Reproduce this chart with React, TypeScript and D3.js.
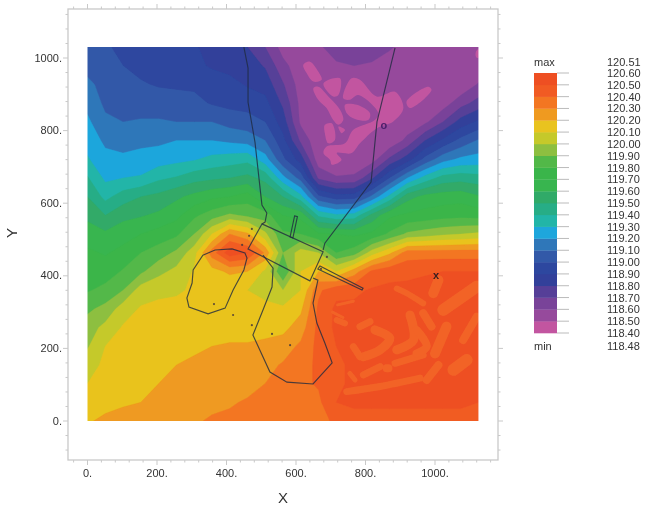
import React from "react";
import * as d3 from "d3";

// Surface values, rows from the top edge (Y=1030) to the bottom edge (Y=0)
const surfaceRows: number[][] = [
  [119.05,119.02,118.96,118.95,118.94,118.93,118.91,118.87,118.84,118.80,118.70,118.56,118.56,118.59,118.63,118.65,118.64,118.61,118.57,118.55,118.55,118.55,118.54],
  [119.07,119.04,119.00,118.97,118.95,118.94,118.92,118.89,118.87,118.85,118.79,118.63,118.54,118.56,118.59,118.60,118.59,118.56,118.53,118.52,118.52,118.52,118.52],
  [119.12,119.07,119.03,119.01,118.99,118.98,118.98,118.95,118.93,118.89,118.86,118.71,118.55,118.52,118.52,118.51,118.51,118.51,118.51,118.51,118.52,118.52,118.61],
  [119.17,119.08,119.07,119.05,119.05,119.05,119.03,118.99,118.97,118.96,118.93,118.78,118.57,118.52,118.52,118.51,118.51,118.51,118.51,118.52,118.55,118.66,118.74],
  [119.22,119.12,119.10,119.11,119.11,119.10,119.10,119.10,119.06,119.04,119.00,118.85,118.58,118.52,118.52,118.51,118.51,118.51,118.53,118.58,118.70,118.84,118.92],
  [119.26,119.18,119.16,119.17,119.18,119.20,119.20,119.20,119.18,119.16,119.10,118.93,118.68,118.52,118.52,118.51,118.51,118.52,118.63,118.80,118.92,119.03,119.11],
  [119.31,119.23,119.22,119.24,119.25,119.27,119.29,119.33,119.35,119.37,119.24,119.02,118.85,118.54,118.52,118.52,118.55,118.72,118.85,119.03,119.16,119.22,119.24],
  [119.41,119.28,119.30,119.31,119.38,119.41,119.46,119.48,119.50,119.53,119.47,119.23,119.06,118.68,118.61,118.62,118.78,119.00,119.20,119.34,119.44,119.46,119.44],
  [119.50,119.37,119.45,119.50,119.53,119.58,119.63,119.68,119.70,119.75,119.60,119.50,119.33,119.02,118.94,118.95,119.12,119.33,119.56,119.63,119.65,119.66,119.61],
  [119.58,119.50,119.57,119.59,119.62,119.67,119.78,119.85,119.92,119.88,119.85,119.70,119.67,119.38,119.32,119.34,119.53,119.68,119.72,119.74,119.76,119.77,119.76],
  [119.64,119.62,119.66,119.70,119.74,119.78,119.90,120.10,120.30,120.22,120.02,119.82,119.80,119.72,119.70,119.68,119.72,119.82,119.92,119.95,119.98,120.00,120.02],
  [119.72,119.69,119.73,119.80,119.85,119.92,120.06,120.35,120.56,120.50,120.28,119.90,120.05,120.00,119.80,119.85,120.05,120.18,120.35,120.35,120.35,120.35,120.35],
  [119.76,119.75,119.81,119.88,119.97,120.03,120.11,120.16,120.22,120.20,120.08,119.80,120.10,120.20,120.10,120.25,120.42,120.47,120.47,120.49,120.50,120.50,120.50],
  [119.79,119.83,119.90,120.05,120.08,120.09,120.11,120.10,120.11,120.10,120.05,120.00,120.10,120.38,120.47,120.48,120.51,120.52,120.53,120.53,120.53,120.53,120.52],
  [119.88,119.93,120.05,120.11,120.12,120.12,120.13,120.14,120.13,120.13,120.14,120.12,120.18,120.42,120.52,120.52,120.54,120.54,120.54,120.54,120.54,120.54,120.53],
  [119.95,120.03,120.11,120.12,120.13,120.14,120.15,120.17,120.16,120.16,120.17,120.17,120.25,120.43,120.52,120.53,120.54,120.54,120.54,120.54,120.54,120.54,120.53],
  [119.99,120.10,120.12,120.13,120.14,120.16,120.18,120.20,120.21,120.21,120.22,120.25,120.32,120.43,120.50,120.53,120.54,120.54,120.54,120.54,120.54,120.54,120.54],
  [120.06,120.12,120.14,120.15,120.16,120.20,120.22,120.23,120.24,120.24,120.27,120.31,120.36,120.42,120.47,120.53,120.54,120.54,120.54,120.54,120.54,120.54,120.54],
  [120.10,120.14,120.16,120.17,120.20,120.23,120.25,120.26,120.27,120.27,120.30,120.33,120.38,120.41,120.47,120.53,120.54,120.54,120.54,120.54,120.54,120.54,120.52],
  [120.14,120.17,120.19,120.20,120.23,120.25,120.27,120.28,120.29,120.31,120.32,120.34,120.37,120.38,120.50,120.52,120.52,120.52,120.52,120.52,120.52,120.52,120.50],
  [120.19,120.22,120.23,120.23,120.25,120.27,120.29,120.31,120.32,120.33,120.33,120.35,120.34,120.33,120.44,120.46,120.46,120.46,120.46,120.46,120.46,120.46,120.46],
];
const surfaceX0 = 0, surfaceX1 = 1125, surfaceY0 = 1030, surfaceY1 = 0;

// Band lower bounds (bottom of legend first) and their colours
const bandFloors = [118.4,118.5,118.6,118.7,118.8,118.9,119.0,119.1,119.2,119.3,119.4,119.5,119.6,119.7,119.8,119.9,120.0,120.1,120.2,120.3,120.4,120.5];
const bandColors = ["#c255a0","#964a9c","#794399","#563f98","#32409a","#2d479f","#3259a8","#2f77b9","#1ea6dc","#22b5a8","#27ad86","#30aa68","#38b54f","#3ab54a","#52b848","#8dbf40","#c5c92a","#e9c31f","#ef9a20","#f37622","#f15b23","#ee4f22"];
const streakColor = "#f26328";
const legendLabels = ["120.60","120.50","120.40","120.30","120.20","120.10","120.00","119.90","119.80","119.70","119.60","119.50","119.40","119.30","119.20","119.10","119.00","118.90","118.80","118.70","118.60","118.50","118.40"];
const maxLabel = "120.51", minLabel = "118.48";

const xMajor = [0,200,400,600,800,1000];
const yMajor = [0,200,400,600,800,1000];
const xMinor = [-40,40,80,120,160,240,280,320,360,440,480,520,560,640,680,720,760,840,880,920,960,1040,1080,1120,1160];
const yMinor = [-80,-40,40,80,120,160,240,280,320,360,440,480,520,560,640,680,720,760,840,880,920,960,1040,1080,1120];

type P = [number, number];
const leftChannel: P[] = [[450,1030],[462,972],[462,878],[482,768],[502,595],[516,573],[511,548],[502,543]];
const rightChannel: P[] = [[678,471],[683,490],[816,658],[833,824],[885,1028]];
const basin: P[] = [[502,543],[678,466],[640,386],[462,474]];
const upperJetty: P[] = [[596,565],[604,563],[591,504],[583,507]];
const lowerJetty: P[] = [[669,427],[793,366],[790,361],[663,419]];
const loopA: P[] = [[367,471],[416,474],[453,463],[459,449],[450,416],[419,361],[396,311],[347,295],[292,314],[286,339],[301,380],[304,416],[332,457]];
const loopB: P[] = [[505,457],[534,421],[531,369],[505,306],[476,237],[525,135],[574,107],[649,102],[704,160],[683,215],[660,270],[649,325],[663,388],[649,394]];
const dots: P[] = [[473,529],[465,510],[445,485],[689,452],[672,419],[364,322],[419,292],[473,264],[531,240],[583,209]];
const circleMark: P = [853,815];
const crossMark: P = [1003,402];

const lowPatches: P[][] = [
  [[621,981],[640,990],[664,963],[674,940],[650,935],[631,958]],
  [[679,930],[727,944],[722,898],[707,894]],
  [[650,917],[664,921],[698,889],[727,857],[736,829],[722,816],[707,829],[688,862],[664,885]],
  [[683,816],[703,820],[712,774],[693,765],[683,793]],
  [[722,811],[741,802],[731,793]],
  [[760,944],[784,940],[832,894],[885,907],[909,862],[880,825],[832,806],[784,765],[760,738],[717,738],[731,719],[703,706],[698,719],[679,738],[688,756],[741,765],[765,802],[827,829],[837,848],[779,898],[755,885],[736,889]],
  [[741,871],[775,871],[813,848],[808,829],[770,832],[746,848]],
  [[918,880],[981,921],[990,912],[928,862]],
  [[1118,1018],[1125,1025],[1125,1000],[1118,1003]],
];
const highStreaks: P[][] = [
  [[746,81],[842,95],[957,118]],[[794,127],[842,150]],[[976,113],[1010,154]],[[1053,141],[1091,168]],
  [[885,159],[966,182]],[[1000,186],[1033,260]],[[928,292],[938,223],[890,196]],[[966,297],[990,260]],
  [[947,251],[976,205],[947,186]],[[1081,223],[1120,287]],[[1024,306],[1120,370]],[[995,352],[1010,388]],
  [[827,251],[870,228],[842,196],[794,177]],[[784,260],[813,274]],[[717,278],[741,269]],[[765,205],[784,177]],
  [[861,145],[866,145]],[[755,131],[770,113]],[[890,365],[918,352],[966,324]],[[720,320],[765,330]],[[705,300],[735,285]],
];
const streakWidths = [7,7,8,12,7,10,9,8,8,8,12,10,9,7,6,7,8,5,6,3,3];

const W = 645, H = 506;
const FONT = "'Liberation Sans', Arial, sans-serif";
const x = d3.scaleLinear().domain([0, 1000]).range([87.5, 435]);
const y = d3.scaleLinear().domain([0, 1000]).range([421, 58]);
const frame = { l: 68, r: 498, t: 9, b: 460 };

export default function App() {
  const ny = surfaceRows.length, nx = surfaceRows[0].length;
  const flat = surfaceRows.flat();
  const contourGen = d3.contours().size([nx, ny]).thresholds(bandFloors);
  const contours = contourGen(flat);
  const gx = d3.scaleLinear().domain([0, nx - 1]).range([surfaceX0, surfaceX1]);
  const gy = d3.scaleLinear().domain([0, ny - 1]).range([surfaceY0, surfaceY1]);
  const path = d3.geoPath(d3.geoTransform({
    point(px: number, py: number) {
      (this as any).stream.point(x(gx(px - 0.5)), y(gy(py - 0.5)));
    },
  }));
  const lineGen = d3.line<P>().x((d) => x(d[0])).y((d) => y(d[1]));
  const blob = d3.line<P>().x((d) => x(d[0])).y((d) => y(d[1])).curve(d3.curveCatmullRomClosed.alpha(0.5));
  const sausage = d3.line<P>().x((d) => x(d[0])).y((d) => y(d[1])).curve(d3.curveCatmullRom.alpha(0.5));

  const legendTop = 73, legendBottom = 333;
  const legendY = d3.scaleLinear().domain([0, legendLabels.length - 1]).range([legendTop, legendBottom]);
  const mapL = x(0), mapR = x(1125), mapT = y(1030), mapB = y(0);
  const lineColor = "#1f2a40";
  const frameColor = "#c9c9c9";

  return (
    <svg width={W} height={H} viewBox={`0 0 ${W} ${H}`}
      style={{ position: "absolute", left: 0, top: 0, background: "#fff", filter: "blur(0.4px)" }}
      fontFamily={FONT}>
      <defs>
        <clipPath id="mapClip"><rect x={mapL} y={mapT} width={mapR - mapL} height={mapB - mapT} /></clipPath>
        <filter id="soft" x="-2%" y="-2%" width="104%" height="104%"><feGaussianBlur stdDeviation={0.7} /></filter>
      </defs>
      {/* frame and ticks */}
      <rect x={frame.l} y={frame.t} width={frame.r - frame.l} height={frame.b - frame.t} fill="#fff" stroke={frameColor} strokeWidth={1.3} />
      <g stroke={frameColor} strokeWidth={1}>
        {xMinor.map((v) => <g key={v}><line x1={x(v)} x2={x(v)} y1={frame.t} y2={frame.t - 2.5} /><line x1={x(v)} x2={x(v)} y1={frame.b} y2={frame.b + 2.5} /></g>)}
        {xMajor.map((v) => <g key={v}><line x1={x(v)} x2={x(v)} y1={frame.t} y2={frame.t - 5} /><line x1={x(v)} x2={x(v)} y1={frame.b} y2={frame.b + 5} /></g>)}
        {yMinor.map((v) => <g key={v}><line y1={y(v)} y2={y(v)} x1={frame.l} x2={frame.l - 2.5} /><line y1={y(v)} y2={y(v)} x1={frame.r} x2={frame.r + 2.5} /></g>)}
        {yMajor.map((v) => <g key={v}><line y1={y(v)} y2={y(v)} x1={frame.l} x2={frame.l - 5} /><line y1={y(v)} y2={y(v)} x1={frame.r} x2={frame.r + 5} /></g>)}
      </g>
      <g fontSize={11} fill="#333">
        {xMajor.map((v) => <text key={v} x={x(v)} y={477} textAnchor="middle">{v}.</text>)}
        {yMajor.map((v) => <text key={v} x={62} y={y(v) + 3.5} textAnchor="end">{v}.</text>)}
      </g>
      <text x={283} y={503} fontSize={15} fill="#333" textAnchor="middle">X</text>
      <text transform="translate(17,233) rotate(-90)" fontSize={15} fill="#333" textAnchor="middle">Y</text>

      {/* filled map */}
      <g clipPath="url(#mapClip)">
        <g filter="url(#soft)">
          {contours.map((c: any, i: number) => <path key={i} d={path(c) || ""} fill={bandColors[i]} stroke={bandColors[i]} strokeWidth={0.3} />)}
          {lowPatches.map((p, i) => <path key={i} d={blob(p) || ""} fill={bandColors[0]} />)}
          {highStreaks.map((p, i) => <path key={i} d={sausage(p) || ""} fill="none" stroke={streakColor} strokeWidth={streakWidths[i]} strokeLinecap="round" strokeLinejoin="round" />)}
        </g>
      </g>

      {/* overlay lines */}
      <g fill="none" stroke={lineColor} strokeOpacity={0.8} strokeWidth={1.15}>
        <path d={lineGen(leftChannel) || ""} />
        <path d={lineGen(rightChannel) || ""} />
        <path d={(lineGen(basin) || "") + "Z"} />
        <path d={(lineGen(upperJetty) || "") + "Z"} />
        <path d={(lineGen(lowerJetty) || "") + "Z"} />
        <path d={(lineGen(loopA) || "") + "Z"} />
        <path d={lineGen(loopB) || ""} />
      </g>
      <g fill="#4a3a3a" opacity={0.85}>
        {dots.map((d, i) => <circle key={i} cx={x(d[0])} cy={y(d[1])} r={1.1} />)}
      </g>
      <text x={x(circleMark[0])} y={y(circleMark[1]) + 3.5} fontSize={11} fontWeight={700} fill="#4a1f6a" textAnchor="middle">o</text>
      <text x={x(crossMark[0])} y={y(crossMark[1]) + 3.5} fontSize={11} fontWeight={700} fill="#3a2020" textAnchor="middle">x</text>

      {/* legend */}
      {bandColors.map((c, i) => (
        <rect key={i} x={534} width={23} y={legendY(legendLabels.length - 2 - i)} height={legendY(1) - legendY(0) + 0.3} fill={c} />
      ))}
      <g stroke="#a9a9a9" strokeWidth={0.8}>
        {legendLabels.map((_, i) => <line key={i} x1={557} x2={569} y1={legendY(i)} y2={legendY(i)} />)}
      </g>
      <g fontSize={11} fill="#333">
        <text x={534} y={66}>max</text>
        <text x={534} y={350}>min</text>
        <text x={607} y={66}>{maxLabel}</text>
        {legendLabels.map((l, i) => <text key={l} x={607} y={legendY(i) + 4}>{l}</text>)}
        <text x={607} y={350}>{minLabel}</text>
      </g>
    </svg>
  );
}
